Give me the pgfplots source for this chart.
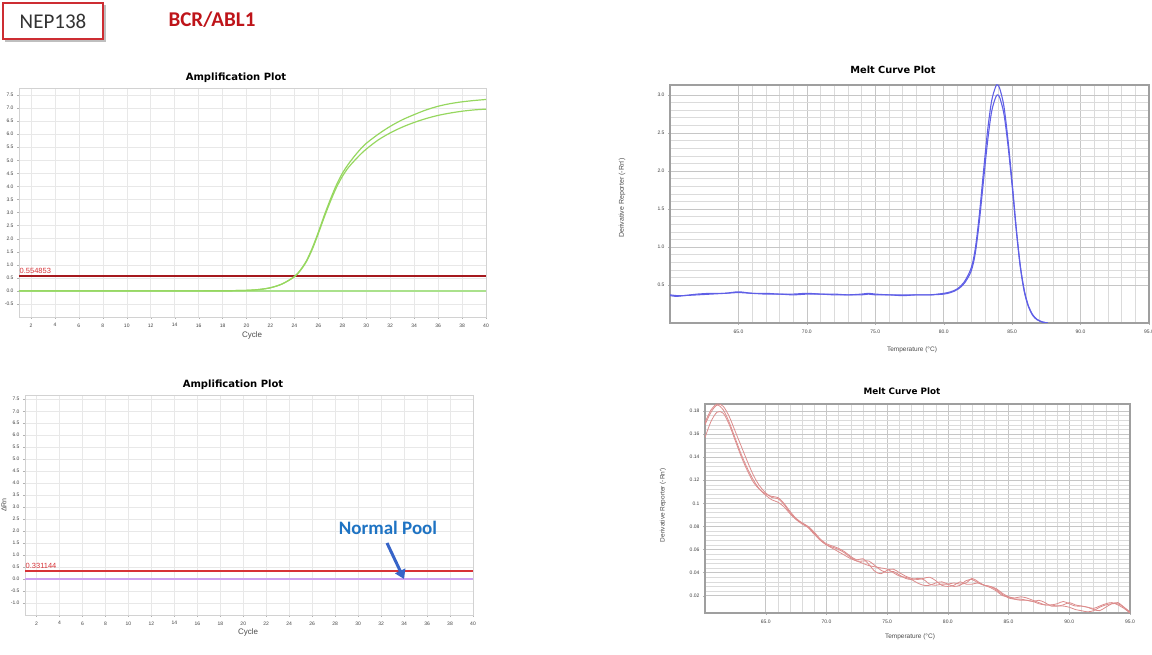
\documentclass[border=0pt]{standalone}
\usepackage{fontspec}
\setmainfont{Liberation Sans}
\newfontfamily\carlito{Carlito}
\newfontfamily\dejavu{DejaVu Sans}
\usepackage{pgfplots}
\pgfplotsset{compat=1.18}
\usetikzlibrary{arrows.meta}

\definecolor{ampgreen}{RGB}{150,215,95}
\definecolor{basegreen}{RGB}{170,225,140}
\definecolor{thrdark}{RGB}{165,25,30}
\definecolor{thrred}{RGB}{215,50,55}
\definecolor{meltblue}{RGB}{95,95,230}
\definecolor{meltred}{RGB}{220,140,140}
\definecolor{npblue}{RGB}{30,115,195}
\definecolor{arrblue}{RGB}{55,100,200}
\definecolor{boxred}{RGB}{205,45,50}
\definecolor{hdrred}{RGB}{190,20,25}
\definecolor{lilac}{RGB}{205,160,240}

\pgfplotsset{
  common/.style={scale only axis, anchor=south west,
    tick label style={font=\fontsize{5}{6}\selectfont, text=black!75},
    /pgf/number format/assume math mode=true,
    tick align=outside, xtick pos=bottom, ytick pos=left,
    major tick length=2pt, minor tick length=0pt,
    tick style={gray!60},
    xticklabel style={yshift=-1pt},
  },
  amp/.style={common,
    axis line style={gray!35, line width=0.8pt},
    grid=major, major grid style={gray!18, line width=0.5pt},
    xmin=1, xmax=40, xtick={2,4,...,40},
    yticklabel style={/pgf/number format/.cd, fixed, fixed zerofill, precision=1},
  },
  melt/.style={common,
    axis line style={gray!75, line width=1.4pt},
    grid=both, major grid style={gray!45, line width=0.5pt},
    minor grid style={gray!28, line width=0.4pt},
    xmin=60, xmax=95, xtick={65,70,...,95}, minor x tick num=4,
    minor y tick num=4,
    xticklabel style={/pgf/number format/.cd, fixed, fixed zerofill, precision=1},
  },
}

\begin{document}
\begin{tikzpicture}[x=1pt,y=1pt]
\path[use as bounding box] (0,0) rectangle (1152,655);

% header
\fill[black!25] (5,613) rectangle (106,650);
\fill[white, draw=boxred, line width=1.2pt] (3,616) rectangle (103,652);
\node[font=\carlito\fontsize{21}{24}\selectfont, text=black!80] at (53,634) {NEP138};
\node[font=\carlito\bfseries\fontsize{21}{24}\selectfont, text=hdrred] at (212,635) {BCR/ABL1};

% ---------- top-left amplification ----------
\begin{axis}[amp, at={(19pt,338pt)}, width=467pt, height=229pt,
  ymin=-1.0, ymax=7.77, ytick={-0.5,0,...,7.5}]
\addplot[basegreen, line width=1.3pt] coordinates {(1,0) (10,0) (20,0) (30,0) (40,0)};
\addplot[thrdark, line width=2.2pt] coordinates {(1,0.554853) (40,0.554853)};
\addplot[ampgreen, line width=1.2pt, smooth] coordinates {
(1,0) (5,0) (10,0) (15,0) (17,0.002) (18,0.005) (19,0.01) (20,0.02) (21,0.05) (22,0.12) (23,0.27)
(24,0.55) (24.5,0.8) (25,1.15) (25.5,1.65) (26,2.25) (26.5,2.9) (27,3.5) (27.5,4.05) (28,4.5)
(28.5,4.85) (29,5.15) (29.5,5.42) (30,5.65) (31,6.0) (32,6.3)
(33,6.55) (34,6.75) (35,6.93) (36,7.07) (37,7.17) (38,7.24) (39,7.29) (40,7.33)};
\addplot[ampgreen, line width=1.2pt, smooth] coordinates {
(1,0) (5,0) (10,0) (15,0) (17,0.002) (18,0.005) (19,0.01) (20,0.02) (21,0.05) (22,0.12) (23,0.27)
(24,0.54) (24.5,0.78) (25,1.12) (25.5,1.6) (26,2.2) (26.5,2.83) (27,3.42) (27.5,3.95) (28,4.38)
(28.5,4.72) (29,4.98) (29.5,5.22) (30,5.43) (31,5.78) (32,6.05)
(33,6.27) (34,6.45) (35,6.6) (36,6.72) (37,6.81) (38,6.88) (39,6.93) (40,6.96)};
\node[anchor=south west, inner sep=0.5pt, text=thrred, font=\fontsize{7.5}{8}\selectfont] at (axis cs:1,0.62) {0.554853};
\end{axis}

% ---------- top-right melt ----------
\begin{axis}[melt, at={(670pt,332pt)}, width=479pt, height=238pt,
  ymin=0, ymax=3.13, ytick={0.5,1.0,...,3.0},
  yticklabel style={/pgf/number format/.cd, fixed, fixed zerofill, precision=1}]
\addplot[meltblue, line width=1.1pt, smooth] coordinates {
(60,0.37) (60.5,0.36) (61,0.36) (62,0.38) (63,0.39) (64,0.39) (65,0.41) (66,0.39) (67,0.39)
(68,0.38) (69,0.38) (70,0.39) (71,0.38) (72,0.38) (73,0.37) (74,0.38) (74.5,0.39) (75,0.38)
(76,0.37) (77,0.37) (78,0.37) (79,0.37) (80,0.39) (80.5,0.41) (81,0.45) (81.5,0.54) (82,0.72)
(82.3,0.97) (82.6,1.42) (82.9,1.98) (83.2,2.52) (83.5,2.92) (83.8,3.11) (83.95,3.13) (84.1,3.08)
(84.4,2.85) (84.7,2.40) (85.0,1.85) (85.3,1.25) (85.6,0.75) (85.9,0.42) (86.2,0.22) (86.5,0.11)
(86.8,0.05) (87.2,0.015) (87.6,0.0)};
\addplot[meltblue, line width=1.1pt, smooth] coordinates {
(60,0.36) (60.5,0.35) (61,0.36) (62,0.37) (63,0.38) (64,0.39) (65,0.40) (66,0.39) (67,0.38)
(68,0.38) (69,0.37) (70,0.38) (71,0.38) (72,0.37) (73,0.37) (74,0.37) (74.5,0.38) (75,0.37)
(76,0.37) (77,0.36) (78,0.37) (79,0.37) (80,0.38) (80.5,0.40) (81,0.44) (81.5,0.52) (82,0.68)
(82.3,0.91) (82.6,1.33) (82.9,1.86) (83.2,2.38) (83.5,2.78) (83.8,2.97) (83.95,3.0) (84.1,2.96)
(84.4,2.75) (84.7,2.33) (85.0,1.80) (85.3,1.22) (85.6,0.73) (85.9,0.40) (86.2,0.21) (86.5,0.10)
(86.8,0.045) (87.2,0.012) (87.6,0.0)};
\end{axis}

% ---------- bottom-left amplification ----------
\begin{axis}[amp, at={(25pt,40pt)}, width=448pt, height=220pt,
  ymin=-1.5, ymax=7.68, ytick={-1,-0.5,...,7.5}]
\addplot[lilac, line width=1.5pt] coordinates {(1,0) (10,0) (20,0) (30,0) (40,0)};
\addplot[thrred, line width=2.4pt] coordinates {(1,0.331144) (40,0.331144)};
\node[anchor=south west, inner sep=0.5pt, text=thrred, font=\fontsize{7.5}{8}\selectfont] at (axis cs:1,0.40) {0.331144};
\end{axis}

% ---------- bottom-right melt ----------
\begin{axis}[melt, at={(705pt,42pt)}, width=425pt, height=209pt,
  ymin=0.005, ymax=0.186, ytick={0.02,0.04,...,0.181},
  yticklabel style={/pgf/number format/.cd, fixed, precision=2}]
\addplot[meltred, line width=0.8pt, smooth] coordinates {
(60,0.170) (60.5,0.181) (61,0.186) (61.5,0.184) (62,0.175) (62.5,0.162) (63,0.149) (63.5,0.136)
(64,0.124) (64.5,0.115) (65,0.109) (65.5,0.105) (66,0.104) (66.5,0.099) (67,0.092) (67.5,0.086)
(68,0.082) (68.5,0.079) (69,0.074) (69.5,0.068) (70,0.064) (70.5,0.062) (71,0.060) (71.5,0.057)
(72,0.053) (72.5,0.050) (73,0.050) (73.5,0.050) (74,0.046) (74.5,0.042) (75,0.040) (75.5,0.041)
(76,0.038) (76.5,0.035) (77,0.034) (77.5,0.035) (78,0.034) (78.5,0.030) (79,0.029) (79.5,0.030)
(80,0.030) (80.5,0.031) (81,0.030) (81.5,0.031) (82,0.035) (82.5,0.032) (83,0.029) (83.5,0.028)
(84,0.025) (84.5,0.021) (85,0.018) (85.5,0.017) (86,0.017) (86.5,0.016) (87,0.015) (87.5,0.016)
(88,0.014) (88.5,0.011) (89,0.011) (89.5,0.012) (90,0.014) (90.5,0.012) (91,0.011) (91.5,0.010)
(92,0.009) (92.5,0.011) (93,0.013) (93.5,0.014) (94,0.012) (94.5,0.009) (95,0.005)};
\addplot[meltred, line width=0.8pt, smooth] coordinates {
(60,0.157) (60.5,0.171) (61,0.179) (61.5,0.178) (62,0.168) (62.5,0.154) (63,0.140) (63.5,0.128)
(64,0.118) (64.5,0.112) (65,0.108) (65.5,0.106) (66,0.105) (66.5,0.100) (67,0.093) (67.5,0.087)
(68,0.083) (68.5,0.080) (69,0.075) (69.5,0.069) (70,0.065) (70.5,0.063) (71,0.061) (71.5,0.058)
(72,0.054) (72.5,0.051) (73,0.052) (73.5,0.047) (74,0.041) (74.5,0.039) (75,0.042) (75.5,0.043)
(76,0.040) (76.5,0.037) (77,0.035) (77.5,0.034) (78,0.035) (78.5,0.036) (79,0.033) (79.5,0.029)
(80,0.028) (80.5,0.029) (81,0.032) (81.5,0.030) (82,0.030) (82.5,0.031) (83,0.029) (83.5,0.027)
(84,0.024) (84.5,0.020) (85,0.019) (85.5,0.018) (86,0.019) (86.5,0.018) (87,0.016) (87.5,0.014)
(88,0.012) (88.5,0.012) (89,0.013) (89.5,0.015) (90,0.013) (90.5,0.011) (91,0.011) (91.5,0.010)
(92,0.008) (92.5,0.007) (93,0.010) (93.5,0.013) (94,0.014) (94.5,0.010) (95,0.006)};
\addplot[meltred, line width=0.8pt, smooth] coordinates {
(60,0.168) (60.5,0.179) (61,0.185) (61.5,0.181) (62,0.170) (62.5,0.156) (63,0.142) (63.5,0.130)
(64,0.120) (64.5,0.112) (65,0.107) (65.5,0.103) (66,0.101) (66.5,0.097) (67,0.091) (67.5,0.086)
(68,0.083) (68.5,0.079) (69,0.073) (69.5,0.068) (70,0.064) (70.5,0.061) (71,0.058) (71.5,0.055)
(72,0.052) (72.5,0.050) (73,0.048) (73.5,0.046) (74,0.045) (74.5,0.044) (75,0.043) (75.5,0.040)
(76,0.037) (76.5,0.036) (77,0.034) (77.5,0.031) (78,0.029) (78.5,0.029) (79,0.031) (79.5,0.032)
(80,0.030) (80.5,0.028) (81,0.029) (81.5,0.033) (82,0.034) (82.5,0.031) (83,0.029) (83.5,0.028)
(84,0.026) (84.5,0.022) (85,0.019) (85.5,0.017) (86,0.016) (86.5,0.016) (87,0.015) (87.5,0.013)
(88,0.012) (88.5,0.012) (89,0.011) (89.5,0.011) (90,0.010) (90.5,0.008) (91,0.007) (91.5,0.006)
(92,0.007) (92.5,0.010) (93,0.012) (93.5,0.013) (94,0.013) (94.5,0.010) (95,0.005)};
\end{axis}

% titles and labels
\node[font=\dejavu\bfseries\fontsize{10}{12}\selectfont] at (236,577) {Amplification Plot};
\node[font=\dejavu\bfseries\fontsize{9.8}{12}\selectfont] at (893,585) {Melt Curve Plot};
\node[font=\dejavu\bfseries\fontsize{10}{12}\selectfont] at (233,270) {Amplification Plot};
\node[font=\dejavu\bfseries\fontsize{8.8}{11}\selectfont] at (902,264) {Melt Curve Plot};
\node[font=\fontsize{8}{9}\selectfont, text=black!70] at (252,320) {Cycle};
\node[font=\fontsize{8}{9}\selectfont, text=black!70] at (248,23) {Cycle};
\node[font=\fontsize{6.5}{8}\selectfont, text=black!70] at (912,305) {Temperature (°C)};
\node[font=\fontsize{6.5}{8}\selectfont, text=black!70] at (910,18) {Temperature (°C)};
\node[font=\fontsize{7}{8}\selectfont, text=black!70, rotate=90] at (622,457) {Derivative Reporter (-Rn')};
\node[font=\fontsize{6.5}{8}\selectfont, text=black!70, rotate=90] at (663,150) {Derivative Reporter (-Rn')};
\node[font=\fontsize{7}{8}\selectfont, text=black!70, rotate=90] at (4,150) {ΔRn};

% annotation
\node[font=\carlito\bfseries\fontsize{19}{22}\selectfont, text=npblue] at (388,127) {Normal Pool};
\draw[arrblue, line width=3pt, -{Triangle[length=9pt,width=11pt]}] (387,112) -- (404,76);
\end{tikzpicture}
\end{document}
